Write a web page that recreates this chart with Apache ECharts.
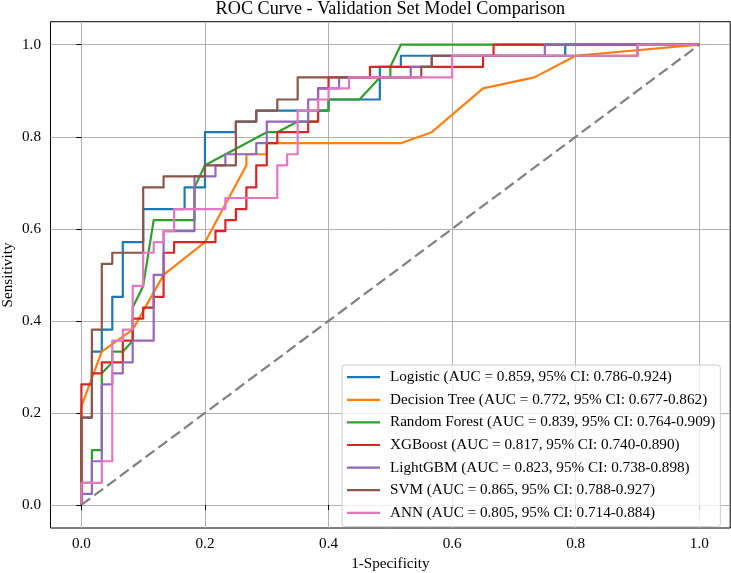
<!DOCTYPE html>
<html><head><meta charset="utf-8">
<script src="https://cdn.jsdelivr.net/npm/echarts@6/dist/echarts.min.js"></script>
<style>html,body{margin:0;padding:0;background:#fff}#c{width:731px;height:573px}</style>
</head><body><div id="c"></div>
<script>
// [1-Specificity, Sensitivity] points of each ROC curve
const logistic = [[0,0],[0,.190],[.017,.190],[.017,.333],[.033,.333],[.033,.381],[.050,.381],[.050,.452],[.067,.452],[.067,.571],[.100,.571],[.100,.643],[.167,.643],[.167,.690],[.200,.690],[.200,.810],[.250,.810],[.250,.833],[.283,.833],[.283,.857],[.400,.857],[.400,.881],[.483,.881],[.483,.952],[.517,.952],[.517,.976],[.783,.976],[.783,1],[1,1]];
const decisionTree = [[0,0],[0,.214],[.033,.333],[.083,.381],[.133,.500],[.200,.571],[.267,.738],[.267,.762],[.300,.762],[.300,.786],[.517,.786],[.567,.810],[.650,.905],[.733,.929],[.800,.976],[1,1]];
const randomForest = [[0,0],[0,.048],[.017,.048],[.017,.119],[.033,.119],[.033,.286],[.050,.310],[.050,.333],[.067,.333],[.083,.357],[.083,.429],[.100,.476],[.117,.619],[.183,.619],[.183,.690],[.200,.738],[.300,.810],[.317,.810],[.350,.833],[.383,.833],[.383,.857],[.400,.857],[.400,.881],[.450,.881],[.483,.929],[.500,.929],[.500,.952],[.517,1],[1,1]];
const xgboost = [[0,0],[0,.262],[.017,.262],[.017,.286],[.033,.286],[.033,.310],[.067,.310],[.067,.357],[.083,.357],[.083,.405],[.100,.405],[.100,.429],[.117,.429],[.117,.452],[.133,.452],[.133,.548],[.150,.548],[.150,.571],[.217,.571],[.217,.595],[.233,.595],[.233,.619],[.250,.619],[.250,.643],[.267,.643],[.267,.690],[.283,.690],[.283,.738],[.300,.738],[.300,.786],[.317,.786],[.317,.810],[.367,.810],[.367,.833],[.383,.833],[.383,.905],[.400,.905],[.400,.929],[.467,.929],[.467,.952],[.650,.952],[.650,.976],[.667,.976],[.667,1],[1,1]];
const lightgbm = [[0,0],[0,.024],[.017,.024],[.017,.095],[.033,.095],[.033,.262],[.050,.262],[.050,.286],[.067,.286],[.067,.310],[.083,.310],[.083,.357],[.117,.357],[.117,.500],[.133,.500],[.133,.595],[.183,.595],[.183,.714],[.217,.714],[.217,.738],[.233,.738],[.233,.762],[.283,.762],[.283,.786],[.300,.786],[.300,.833],[.367,.833],[.367,.881],[.383,.881],[.383,.905],[.417,.905],[.417,.929],[.533,.929],[.533,.952],[.567,.952],[.567,.976],[.750,.976],[.750,1],[1,1]];
const svm = [[0,0],[0,.190],[.017,.190],[.017,.381],[.033,.381],[.033,.524],[.050,.524],[.050,.548],[.100,.548],[.100,.690],[.133,.690],[.133,.714],[.200,.714],[.200,.738],[.250,.738],[.250,.833],[.283,.833],[.283,.857],[.317,.857],[.317,.881],[.350,.881],[.350,.929],[.550,.929],[.550,.952],[.567,.952],[.567,.976],[.900,.976],[.900,1],[1,1]];
const ann = [[0,0],[0,.048],[.033,.048],[.033,.095],[.050,.095],[.050,.357],[.067,.357],[.067,.381],[.083,.381],[.083,.476],[.100,.476],[.100,.548],[.117,.548],[.117,.571],[.133,.571],[.133,.595],[.150,.595],[.150,.643],[.233,.643],[.233,.667],[.317,.667],[.317,.738],[.333,.738],[.333,.762],[.350,.762],[.350,.857],[.383,.857],[.383,.881],[.400,.881],[.400,.905],[.433,.905],[.433,.929],[.600,.929],[.600,.976],[.900,.976],[.900,1],[1,1]];
const chanceLine = [[0,0],[1,1]];

const legendLabels = [
  'Logistic (AUC = 0.859, 95% CI: 0.786-0.924)',
  'Decision Tree (AUC = 0.772, 95% CI: 0.677-0.862)',
  'Random Forest (AUC = 0.839, 95% CI: 0.764-0.909)',
  'XGBoost (AUC = 0.817, 95% CI: 0.740-0.890)',
  'LightGBM (AUC = 0.823, 95% CI: 0.738-0.898)',
  'SVM (AUC = 0.865, 95% CI: 0.788-0.927)',
  'ANN (AUC = 0.805, 95% CI: 0.714-0.884)'
];
const tickValues = [0, 0.2, 0.4, 0.6, 0.8, 1.0];
const titleText = 'ROC Curve - Validation Set Model Comparison';
const xName = '1-Specificity';
const yName = 'Sensitivity';

const curves = [logistic, decisionTree, randomForest, xgboost, lightgbm, svm, ann];
const colors = ['#1f77b4','#ff7f0e','#2ca02c','#d62728','#9467bd','#8c564b','#e377c2'];
const FONT = '"Liberation Serif", "DejaVu Serif", serif';

const chart = echarts.init(document.getElementById('c'), null, {renderer: 'canvas'});

function axisCfg(pos, margin) {
  return {
    type: 'value', min: -0.05, max: 1.05, position: pos,
    axisLine: {show: false},
    axisTick: {show: true, inside: false, length: 5, customValues: tickValues, lineStyle: {color: '#000', width: 1}},
    axisLabel: {show: true, customValues: tickValues, margin: margin, color: '#000', fontFamily: FONT, fontSize: 15.2,
      formatter: v => v.toFixed(1)},
    splitLine: {show: true, lineStyle: {color: '#b0b0b0', width: 1}}
  };
}

const series = curves.map((d, i) => ({
  name: legendLabels[i], type: 'line', data: d, symbol: 'none', showSymbol: false,
  lineStyle: {color: colors[i], width: 2.2, join: 'round'}, itemStyle: {color: colors[i]},
  silent: true, animation: false
}));
series.push({
  name: 'chance', type: 'line', data: chanceLine, symbol: 'none', silent: true, animation: false,
  lineStyle: {color: '#808080', width: 2.2, type: [11, 5]}
});

chart.setOption({
  animation: false,
  grid: {left: 50.5, right: 0.8, top: 21.7, bottom: 45, show: true, borderColor: '#000', borderWidth: 1, backgroundColor: 'transparent'},
  xAxis: axisCfg('bottom', 9),
  yAxis: axisCfg('left', 9.5),
  legend: {
    data: legendLabels, orient: 'vertical', left: 342, top: 365,
    icon: 'rect', itemWidth: 33, itemHeight: 2.2, itemGap: 7.6,
    padding: [4.7, 5, 6.3, 5], selectedMode: false,
    backgroundColor: 'rgba(255,255,255,0.8)', borderColor: '#cccccc', borderWidth: 1, borderRadius: 3,
    textStyle: {fontFamily: FONT, fontSize: 15.2, color: '#000', lineHeight: 14.1, padding: [0, 0, 0, 5]}
  },
  graphic: [
    {type: 'text', x: 390.4, y: 9.5, style: {text: titleText, font: '18.2px ' + FONT, fill: '#000', align: 'center', verticalAlign: 'middle'}},
    {type: 'text', x: 390.4, y: 564, style: {text: xName, font: '15.2px ' + FONT, fill: '#000', align: 'center', verticalAlign: 'middle'}},
    {type: 'text', x: 8.5, y: 275, rotation: Math.PI / 2, style: {text: yName, font: '15.2px ' + FONT, fill: '#000', align: 'center', verticalAlign: 'middle'}}
  ],
  series: series
});
</script></body></html>
